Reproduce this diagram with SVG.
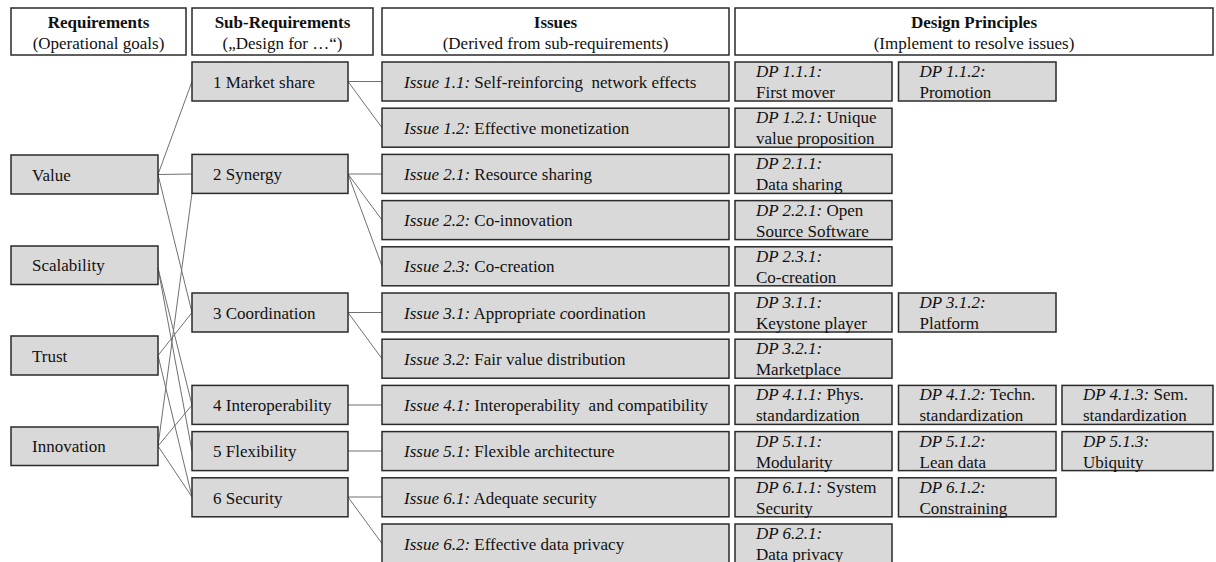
<svg xmlns="http://www.w3.org/2000/svg" width="1216" height="562" viewBox="0 0 1216 562">
<style>
text{font-family:"Liberation Serif","Times New Roman",serif;font-size:17px;fill:#111}
.hd{fill:#fff;stroke:#2a2a2a;stroke-width:1.5}
.bx{fill:#d9d9d9;stroke:#2a2a2a;stroke-width:1.5}
.b{font-weight:bold}
.c{text-anchor:middle}
.i{font-style:italic}
.pre{white-space:pre}
.cn line{stroke:#707070;stroke-width:1}
</style>
<rect width="1216" height="562" fill="#fff"/>
<g id="headers">
<g id="h-req"><rect class="hd" x="11" y="8" width="175" height="47"/><text class="c b" x="98.5" y="28">Requirements</text><text class="c" x="98.5" y="49">(Operational goals)</text></g>
<g id="h-sub"><rect class="hd" x="192" y="8" width="181" height="47"/><text class="c b" x="282.5" y="28">Sub-Requirements</text><text class="c" x="282.5" y="49">(„Design for …“)</text></g>
<g id="h-iss"><rect class="hd" x="382" y="8" width="347" height="47"/><text class="c b" x="555.5" y="28">Issues</text><text class="c" x="555.5" y="49">(Derived from sub-requirements)</text></g>
<g id="h-dp"><rect class="hd" x="735" y="8" width="478" height="47"/><text class="c b" x="974" y="28">Design Principles</text><text class="c" x="974" y="49">(Implement to resolve issues)</text></g>
</g>
<g class="cn" id="connectors">
<line x1="158" y1="174.5" x2="192" y2="81.5"/>
<line x1="158" y1="174.5" x2="192" y2="174"/>
<line x1="158" y1="174.5" x2="192" y2="312.5"/>
<line x1="158" y1="268" x2="192" y2="405"/>
<line x1="158" y1="268" x2="192" y2="451"/>
<line x1="158" y1="355.5" x2="192" y2="312.5"/>
<line x1="158" y1="355.5" x2="192" y2="497"/>
<line x1="158" y1="446" x2="192" y2="193"/>
<line x1="158" y1="446" x2="192" y2="405"/>
<line x1="158" y1="446" x2="192" y2="497"/>
<line x1="348" y1="81.5" x2="382" y2="81.5"/>
<line x1="348" y1="81.5" x2="382" y2="127.7"/>
<line x1="348" y1="174" x2="382" y2="174"/>
<line x1="348" y1="174" x2="382" y2="220"/>
<line x1="348" y1="174" x2="382" y2="266"/>
<line x1="348" y1="312.5" x2="382" y2="312.5"/>
<line x1="348" y1="312.5" x2="382" y2="358.7"/>
<line x1="348" y1="405" x2="382" y2="405"/>
<line x1="348" y1="451" x2="382" y2="451"/>
<line x1="348" y1="497" x2="382" y2="497"/>
<line x1="348" y1="497" x2="382" y2="543.5"/>
</g>
<g id="requirements">
<g id="r-value"><rect class="bx" x="11" y="155" width="147" height="39"/><text x="32" y="180.5">Value</text></g>
<g id="r-scal"><rect class="bx" x="11" y="246" width="147" height="38.5"/><text x="32" y="271">Scalability</text></g>
<g id="r-trust"><rect class="bx" x="11" y="336" width="147" height="39"/><text x="32" y="361.5">Trust</text></g>
<g id="r-innov"><rect class="bx" x="11" y="427" width="147" height="38.5"/><text x="32" y="452">Innovation</text></g>
</g>
<g id="subrequirements">
<g id="s1"><rect class="bx" x="192" y="62" width="156" height="39"/><text x="213" y="87.5">1 Market share</text></g>
<g id="s2"><rect class="bx" x="192" y="154.4" width="156" height="39"/><text x="213" y="180">2 Synergy</text></g>
<g id="s3"><rect class="bx" x="192" y="293" width="156" height="39"/><text x="213" y="318.5">3 Coordination</text></g>
<g id="s4"><rect class="bx" x="192" y="385.4" width="156" height="39"/><text x="213" y="411">4 Interoperability</text></g>
<g id="s5"><rect class="bx" x="192" y="431.6" width="156" height="39"/><text x="213" y="457">5 Flexibility</text></g>
<g id="s6"><rect class="bx" x="192" y="477.8" width="156" height="39"/><text x="213" y="503.5">6 Security</text></g>
</g>
<g id="issues">
<g id="i11"><rect class="bx" x="382" y="62" width="347" height="39"/><text class="pre" x="404" y="87.5"><tspan class="i">Issue 1.1:</tspan> Self-reinforcing  network effects</text></g>
<g id="i12"><rect class="bx" x="382" y="108.2" width="347" height="39"/><text x="404" y="133.7"><tspan class="i">Issue 1.2:</tspan> Effective monetization</text></g>
<g id="i21"><rect class="bx" x="382" y="154.4" width="347" height="39"/><text x="404" y="180"><tspan class="i">Issue 2.1:</tspan> Resource sharing</text></g>
<g id="i22"><rect class="bx" x="382" y="200.6" width="347" height="39"/><text x="404" y="226"><tspan class="i">Issue 2.2:</tspan> Co-innovation</text></g>
<g id="i23"><rect class="bx" x="382" y="246.8" width="347" height="39"/><text x="404" y="272.3"><tspan class="i">Issue 2.3:</tspan> Co-creation</text></g>
<g id="i31"><rect class="bx" x="382" y="293" width="347" height="39"/><text x="404" y="318.5"><tspan class="i">Issue 3.1:</tspan> Appropriate <tspan class="i">c</tspan>oordination</text></g>
<g id="i32"><rect class="bx" x="382" y="339.2" width="347" height="39"/><text x="404" y="364.7"><tspan class="i">Issue 3.2:</tspan> Fair value distribution</text></g>
<g id="i41"><rect class="bx" x="382" y="385.4" width="347" height="39"/><text class="pre" x="404" y="411"><tspan class="i">Issue 4.1:</tspan> Interoperability  and compatibility</text></g>
<g id="i51"><rect class="bx" x="382" y="431.6" width="347" height="39"/><text x="404" y="457"><tspan class="i">Issue 5.1:</tspan> Flexible architecture</text></g>
<g id="i61"><rect class="bx" x="382" y="477.8" width="347" height="39"/><text x="404" y="503.5"><tspan class="i">Issue 6.1:</tspan> Adequate <tspan class="i">s</tspan>ecurity</text></g>
<g id="i62"><rect class="bx" x="382" y="524" width="347" height="40"/><text x="404" y="549.5"><tspan class="i">Issue 6.2:</tspan> Effective data privacy</text></g>
</g>
<g id="designprinciples">
<g id="dp111"><rect class="bx" x="735" y="62" width="157" height="39"/><text x="756" y="77" class="i">DP 1.1.1:</text><text x="756" y="98">First mover</text></g>
<g id="dp112"><rect class="bx" x="898.5" y="62" width="157.5" height="39"/><text x="919.5" y="77" class="i">DP 1.1.2:</text><text x="919.5" y="98">Promotion</text></g>
<g id="dp121"><rect class="bx" x="735" y="108.2" width="157" height="39"/><text x="756" y="123.2"><tspan class="i">DP 1.2.1:</tspan> Unique</text><text x="756" y="144.2">value proposition</text></g>
<g id="dp211"><rect class="bx" x="735" y="154.4" width="157" height="39"/><text x="756" y="169.4" class="i">DP 2.1.1:</text><text x="756" y="190.4">Data sharing</text></g>
<g id="dp221"><rect class="bx" x="735" y="200.6" width="157" height="39"/><text x="756" y="215.6"><tspan class="i">DP 2.2.1:</tspan> Open</text><text x="756" y="236.6">Source Software</text></g>
<g id="dp231"><rect class="bx" x="735" y="246.8" width="157" height="39"/><text x="756" y="261.8" class="i">DP 2.3.1:</text><text x="756" y="282.8">Co-creation</text></g>
<g id="dp311"><rect class="bx" x="735" y="293" width="157" height="39"/><text x="756" y="308" class="i">DP 3.1.1:</text><text x="756" y="329">Keystone player</text></g>
<g id="dp312"><rect class="bx" x="898.5" y="293" width="157.5" height="39"/><text x="919.5" y="308" class="i">DP 3.1.2:</text><text x="919.5" y="329">Platform</text></g>
<g id="dp321"><rect class="bx" x="735" y="339.2" width="157" height="39"/><text x="756" y="354.2" class="i">DP 3.2.1:</text><text x="756" y="375.2">Marketplace</text></g>
<g id="dp411"><rect class="bx" x="735" y="385.4" width="157" height="39"/><text x="756" y="400.4"><tspan class="i">DP 4.1.1:</tspan> Phys.</text><text x="756" y="421.4">standardization</text></g>
<g id="dp412"><rect class="bx" x="898.5" y="385.4" width="157.5" height="39"/><text x="919.5" y="400.4"><tspan class="i">DP 4.1.2:</tspan> Techn.</text><text x="919.5" y="421.4">standardization</text></g>
<g id="dp413"><rect class="bx" x="1062" y="385.4" width="151" height="39"/><text x="1083" y="400.4"><tspan class="i">DP 4.1.3:</tspan> Sem.</text><text x="1083" y="421.4">standardization</text></g>
<g id="dp511"><rect class="bx" x="735" y="431.6" width="157" height="39"/><text x="756" y="446.6" class="i">DP 5.1.1:</text><text x="756" y="467.6">Modularity</text></g>
<g id="dp512"><rect class="bx" x="898.5" y="431.6" width="157.5" height="39"/><text x="919.5" y="446.6" class="i">DP 5.1.2:</text><text x="919.5" y="467.6">Lean data</text></g>
<g id="dp513"><rect class="bx" x="1062" y="431.6" width="151" height="39"/><text x="1083" y="446.6" class="i">DP 5.1.3:</text><text x="1083" y="467.6">Ubiquity</text></g>
<g id="dp611"><rect class="bx" x="735" y="477.8" width="157" height="39"/><text x="756" y="492.8"><tspan class="i">DP 6.1.1:</tspan> System</text><text x="756" y="513.8">Security</text></g>
<g id="dp612"><rect class="bx" x="898.5" y="477.8" width="157.5" height="39"/><text x="919.5" y="492.8" class="i">DP 6.1.2:</text><text x="919.5" y="513.8">Constraining</text></g>
<g id="dp621"><rect class="bx" x="735" y="524" width="157" height="40"/><text x="756" y="539" class="i">DP 6.2.1:</text><text x="756" y="560">Data privacy</text></g>
</g>
</svg>
